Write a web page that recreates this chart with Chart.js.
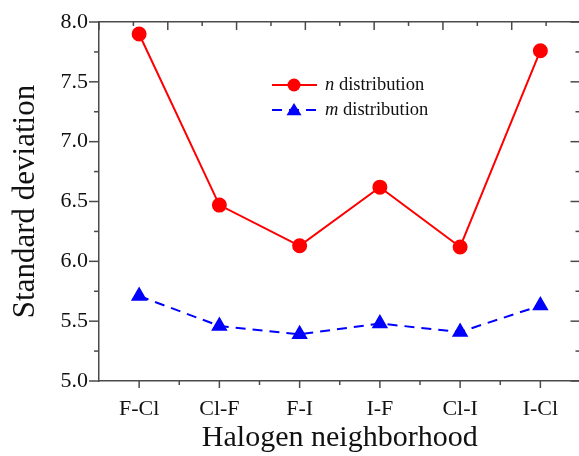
<!DOCTYPE html>
<html>
<head>
<meta charset="utf-8">
<script src="https://cdn.jsdelivr.net/npm/chart.js@4/dist/chart.umd.min.js"></script>
<style>
  html, body { margin:0; padding:0; background:#fff; overflow:hidden; }
  #wrap { width:590px; height:456px; position:relative; }
</style>
</head>
<body>
<div id="wrap"><canvas id="c" width="590" height="456"></canvas></div>
<script>
const categories = ['F-Cl', 'Cl-F', 'F-I', 'I-F', 'Cl-I', 'I-Cl'];
const nValues = [7.90, 6.47, 6.13, 6.62, 6.12, 7.76];
const mValues = [5.71, 5.46, 5.39, 5.48, 5.41, 5.63];
const nLabel = 'n';
const mLabel = 'm';
const legendSuffix = ' distribution';
const yTitle = 'Standard deviation';
const xTitle = 'Halogen neighborhood';

const AXIS = '#4a4a4a';
const SERIF = '"Liberation Serif", "Times New Roman", serif';

const tickPlugin = {
  id: 'customTicks',
  afterDraw(chart) {
    const { ctx, chartArea: a, scales } = chart;
    const x = scales.x, y = scales.y, x2 = scales.x2;
    ctx.save();
    ctx.strokeStyle = AXIS;
    ctx.lineWidth = 1.5;
    const line = (x1, y1, x3, y3) => { ctx.beginPath(); ctx.moveTo(x1, y1); ctx.lineTo(x3, y3); ctx.stroke(); };
    const yv = y.ticks.map(t => t.value);
    yv.forEach((v, i) => {
      const p = y.getPixelForValue(v);
      line(a.left - 10, p, a.left, p);
      line(a.right - 10, p, a.right, p);
      if (i < yv.length - 1) {
        const pm = y.getPixelForValue((v + yv[i + 1]) / 2);
        line(a.left - 5, pm, a.left, pm);
        line(a.right - 5, pm, a.right, pm);
      }
    });
    categories.forEach((c, i) => {
      const p = x.getPixelForValue(i);
      line(p, a.bottom, p, a.bottom + 7);
      if (i < categories.length - 1) {
        const pm = x.getPixelForValue(i + 0.5);
        line(pm, a.bottom, pm, a.bottom + 4);
      }
    });
    for (let v = x2.min; v <= x2.max; v++) {
      const p = x2.getPixelForValue(v);
      const len = (v % 2 === 0) ? 8 : 4;
      line(p, a.top, p, a.top + len);
    }
    ctx.restore();
  }
};

const legendPlugin = {
  id: 'customLegend',
  afterDatasetsDraw(chart) {
    const { ctx } = chart;
    const items = [
      { ds: chart.data.datasets[0], y: 85, sym: nLabel },
      { ds: chart.data.datasets[1], y: 110, sym: mLabel }
    ];
    ctx.save();
    items.forEach(it => {
      const x0 = 272, x1 = 317, xm = 294;
      ctx.strokeStyle = it.ds.borderColor;
      ctx.lineWidth = 2;
      ctx.setLineDash(it.ds.borderDash || []);
      ctx.beginPath(); ctx.moveTo(x0, it.y); ctx.lineTo(x1, it.y); ctx.stroke();
      ctx.setLineDash([]);
      ctx.fillStyle = it.ds.pointBackgroundColor;
      ctx.beginPath();
      if (it.ds.pointStyle === 'circle') {
        ctx.arc(xm, it.y, it.ds.pointRadius, 0, Math.PI * 2);
      } else {
        const r = it.ds.pointRadius;
        ctx.moveTo(xm, it.y - r * 0.95);
        ctx.lineTo(xm + r, it.y + r * 0.7);
        ctx.lineTo(xm - r, it.y + r * 0.7);
        ctx.closePath();
      }
      ctx.fill();
      ctx.fillStyle = '#111';
      ctx.textBaseline = 'middle';
      ctx.textAlign = 'left';
      ctx.font = 'italic 18.5px ' + SERIF;
      ctx.fillText(it.sym, 325, it.y);
      const w = ctx.measureText(it.sym).width;
      ctx.font = '18.5px ' + SERIF;
      ctx.fillText(legendSuffix, 325 + w, it.y);
    });
    ctx.restore();
  }
};

new Chart(document.getElementById('c'), {
  type: 'line',
  data: {
    labels: categories,
    datasets: [
      {
        label: nLabel + legendSuffix,
        data: nValues,
        borderColor: '#ff0000',
        backgroundColor: '#ff0000',
        pointBackgroundColor: '#ff0000',
        pointBorderColor: '#ff0000',
        pointStyle: 'circle',
        pointRadius: 6.5,
        borderWidth: 2,
        tension: 0,
        fill: false
      },
      {
        label: mLabel + legendSuffix,
        data: mValues,
        borderColor: '#0000ff',
        backgroundColor: '#0000ff',
        pointBackgroundColor: '#0000ff',
        pointBorderColor: '#0000ff',
        pointStyle: 'triangle',
        pointRadius: 7.5,
        borderWidth: 2,
        borderDash: [10, 7],
        tension: 0,
        fill: false
      }
    ]
  },
  options: {
    responsive: false,
    animation: false,
    layout: { padding: { left: 0, right: 1, top: -6, bottom: 0 } },
    plugins: { legend: { display: false }, tooltip: { enabled: false } },
    scales: {
      x: {
        type: 'category',
        offset: true,
        position: 'bottom',
        grid: { display: false },
        border: { display: true, color: AXIS, width: 1.5 },
        ticks: { color: '#111', font: { family: SERIF, size: 22 }, padding: 7, maxRotation: 0, autoSkip: false },
        title: { display: true, text: xTitle, color: '#111', font: { family: SERIF, size: 30 }, padding: { top: 1, bottom: 0 } },
        afterFit(s) { s.height = 75; }
      },
      x2: {
        type: 'linear',
        position: 'top',
        min: 0, max: 14,
        grid: { display: false },
        border: { display: true, color: AXIS, width: 1.5 },
        ticks: { display: false },
        afterFit(s) { s.height = 28; }
      },
      y: {
        min: 5, max: 8,
        grid: { display: false },
        border: { display: true, color: AXIS, width: 1.5 },
        ticks: { stepSize: 0.5, color: '#111', font: { family: SERIF, size: 22 }, padding: 3,
                 callback: v => Number(v).toFixed(1) },
        title: { display: true, text: yTitle, color: '#111', font: { family: SERIF, size: 31 }, padding: { top: 7, bottom: 0 } },
        afterFit(s) { s.width = 99; }
      }
    }
  },
  plugins: [tickPlugin, legendPlugin]
});
</script>
</body>
</html>
